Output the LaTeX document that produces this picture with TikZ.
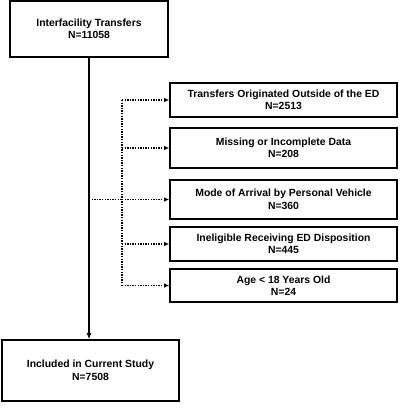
\documentclass[tikz,border=0pt]{standalone}
\usepackage{fontspec}
\setmainfont{Liberation Sans}
\usetikzlibrary{arrows.meta}

\begin{document}
\begin{tikzpicture}[x=1pt,y=-1pt,
    box/.style={draw,line width=1.6pt,align=center,inner sep=0pt,
                font=\fontsize{10.4}{12.5}\selectfont\bfseries},
    flow/.style={line width=1.4pt,-{Latex[length=6pt,width=5pt]}},
    skip/.style={line width=1.4pt,dash pattern=on 1.4pt off 1.2pt},
    skiparrow/.style={skip,-{Latex[length=5pt,width=4.5pt]}}]
          \useasboundingbox (0,0) rectangle (400,412);
          % main boxes
          \node[box,minimum width=158pt,minimum height=56pt] (start) at (89,29) {Interfacility Transfers\\N=11058};
          \node[box,minimum width=177pt,minimum height=61pt] (study) at (90.5,370.5) {Included in Current Study\\N=7508};
          % exclusions
          \node[box,minimum width=227pt,minimum height=34pt] (outside) at (283.5,100) {Transfers Originated Outside of the ED\\N=2513};
          \node[box,minimum width=227pt,minimum height=40pt] (missing) at (283.5,148) {Missing or Incomplete Data\\N=208};
          \node[box,minimum width=227pt,minimum height=39pt] (vehicle) at (283.5,199.5) {Mode of Arrival by Personal Vehicle\\N=360};
          \node[box,minimum width=227pt,minimum height=34pt] (disposition) at (283.5,244) {Ineligible Receiving ED Disposition\\N=445};
          \node[box,minimum width=227pt,minimum height=33pt] (age) at (283.5,285.5) {Age < 18 Years Old\\N=24};
          \draw[flow] (start.south) -- (start.south |- study.north);
          \coordinate (split) at (start.south |- vehicle.west);
          \coordinate (spine) at (122,199.5);
          \draw[skip] (split) -- (spine);
          \draw[skip] (spine |- outside.west) -- (spine |- age.west);
          \foreach \ex in {outside,missing,vehicle,disposition,age}
            \draw[skiparrow] (spine |- \ex.west) -- (\ex.west);
\end{tikzpicture}
\end{document}
